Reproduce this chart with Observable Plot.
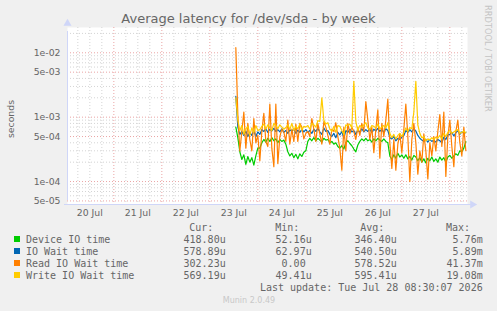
<!DOCTYPE html>
<html>
<head>
<meta charset="utf-8">
<script src="https://cdn.jsdelivr.net/npm/d3@7"></script>
<script src="https://cdn.jsdelivr.net/npm/@observablehq/plot@0.6"></script>
<style>
  html, body { margin: 0; padding: 0; background: #f0f0f0; }
  #chart { position: relative; width: 497px; height: 311px; background: #f0f0f0; overflow: hidden; }
  #chart svg.plot { position: absolute; left: 0; top: 0; }
  #overlay { position: absolute; left: 0; top: 0; }
</style>
</head>
<body>
<div id="chart"></div>
<script>
// Hourly averages (microseconds), first sample 23 Jul 13:00
const deviceIO = [
  700, 480, 290, 220, 260, 185, 245, 200, 235, 180, 250, 330,
  330, 400, 450, 410, 470, 420, 480, 430, 460, 400, 450, 420, 440, 380, 290, 250, 275, 235, 265, 225, 270, 245, 285, 300,
  420, 470, 430, 480, 430, 470, 440, 410, 470, 440, 450, 400, 420, 380, 400, 350, 330, 360, 320, 400, 430, 390, 360,
  320, 290, 370, 420, 460, 430, 470, 430, 450, 410, 460, 430, 470, 440, 420, 460, 420, 400, 250, 220, 260, 230, 275, 240, 260,
  230, 260, 225, 245, 215, 255, 240, 210, 235, 200, 225, 195, 230, 210, 240, 205, 225, 200, 240, 215, 235, 200, 240,
  255, 230, 250, 270, 255, 300, 290, 330, 418.80
];
const ioWait = [
  2100, 700, 540, 600, 520, 610, 500, 580, 520, 620, 500, 590,
  540, 640, 600, 660, 580, 650, 610, 670, 600, 640, 590, 660, 580, 620, 560, 640, 600, 660, 560, 630, 580, 650, 590, 640,
  580, 620, 560, 650, 600, 670, 590, 540, 680, 600, 620, 540, 500, 560, 480, 580, 530, 600, 470, 620, 580, 650, 590,
  620, 540, 640, 580, 660, 590, 640, 600, 660, 580, 650, 610, 670, 600, 650, 580, 660, 620, 480, 460, 500, 430, 470, 450, 490,
  520, 620, 580, 640, 590, 660, 610, 520, 470, 440, 420, 450, 410, 450, 420, 440, 410, 450, 430, 400, 490, 450, 530,
  540, 580, 510, 570, 620, 540, 590, 560, 578.89
];
const readWait = [
  12000, 1100, 300, 600, 1200, 330, 800, 450, 300, 950, 400, 520,
  210, 600, 1150, 420, 350, 1600, 330, 170, 1600, 190, 500, 650, 580, 420, 900, 380, 650, 420, 780, 420, 800, 700, 460, 560,
  600, 500, 950, 650, 420, 800, 550, 380, 850, 700, 520, 380, 650, 600, 820, 500, 330, 150, 700, 300, 800, 550, 700,
  600, 450, 700, 520, 800, 600, 1750, 900, 450, 700, 280, 650, 1300, 230, 800, 500, 900, 1900, 400, 160, 450, 150, 380, 550, 280,
  650, 1600, 500, 100, 450, 800, 400, 130, 300, 200, 550, 300, 110, 400, 250, 500, 300, 600, 1100, 350, 1200, 120, 500,
  900, 350, 170, 600, 900, 400, 250, 700, 302.23
];
const writeWait = [
  2000, 900, 620, 740, 540, 660, 720, 520, 680, 580, 740, 620,
  640, 720, 780, 650, 760, 680, 620, 800, 740, 660, 760, 700, 650, 690, 760, 640, 800, 620, 720, 660, 780, 630, 720, 700,
  740, 650, 800, 760, 700, 880, 860, 2000, 900, 780, 820, 660, 600, 720, 580, 740, 720, 620, 540, 760, 740, 780, 680,
  3600, 850, 620, 740, 700, 760, 820, 680, 640, 740, 720, 680, 780, 660, 700, 740, 680, 820, 560, 480, 540, 460, 520, 560, 500,
  580, 680, 600, 690, 660, 1200, 3600, 760, 560, 480, 500, 430, 460, 440, 480, 450, 490, 470, 520, 460, 560, 500, 580,
  620, 560, 590, 620, 640, 560, 580, 610, 569.19
];

const seriesNames  = ["Device IO time", "IO Wait time", "Read IO Wait time", "Write IO Wait time"];
const seriesColors = ["#00cc00", "#0066b3", "#ff8000", "#ffcc00"];
const curText = ["418.80u", "578.89u", "302.23u", "569.19u"];
const minText = ["52.16u", "62.97u", "0.00 ", "49.41u"];
const avgText = ["346.40u", "540.50u", "578.52u", "595.41u"];
const maxText = ["5.76m", "5.89m", "41.37m", "19.08m"];
const dayLabels = ["20 Jul", "21 Jul", "22 Jul", "23 Jul", "24 Jul", "25 Jul", "26 Jul", "27 Jul"];
const yTickValues = [5e-5, 1e-4, 5e-4, 1e-3, 5e-3, 1e-2];
const yTickLabels = ["5e-05", "1e-04", "5e-04", "1e-03", "5e-03", "1e-02"];

const HOUR = 3600e3;
const firstSample = Date.UTC(2026, 6, 23, 13, 0);
const xStart = new Date(Date.UTC(2026, 6, 20, 0, 50));
const xEnd = new Date(Date.UTC(2026, 6, 28, 8, 50));
const yLo = 4.4e-5, yHi = 0.0247;

const toRows = vals => vals.map((v, i) => ({t: new Date(firstSample + i * HOUR), v: v * 1e-6}));
const allSeries = [deviceIO, ioWait, readWait, writeWait].map(toRows);

// grid: 6-hour minor lines, midnight major lines
const xMajor = [], xMinor = [];
for (let h = 6; h <= 8 * 24 + 6; h += 6) {
  const d = new Date(Date.UTC(2026, 6, 20) + h * HOUR);
  if (d < xStart || d > xEnd) continue;
  (h % 24 === 0 ? xMajor : xMinor).push(d);
}
const dayNoons = dayLabels.map((_, i) => new Date(Date.UTC(2026, 6, 20 + i, 12)));
const dayLabelOf = new Map(dayNoons.map((d, i) => [+d, dayLabels[i]]));
const yTicks = yTickValues.map((v, i) => ({v, label: yTickLabels[i]}));

const yMajor = [], yMinor = [];
for (let k = -5; k <= -2; k++) {
  for (let m = 1; m <= 9; m++) {
    const v = m * Math.pow(10, k);
    if (v < yLo || v > yHi) continue;
    (m === 1 || m === 5 ? yMajor : yMinor).push(v);
  }
}

const axisColor = "#cfd6f8";
const minorGrid = "#d4d4d4";
const majorGrid = "#eaa5a5";

const plot = Plot.plot({
  width: 497,
  height: 230,
  marginLeft: 67,
  marginRight: 30,
  marginTop: 27,
  marginBottom: 26,
  style: {background: "transparent", color: "#666666", fontFamily: "'DejaVu Sans', sans-serif", fontSize: "9.3px", overflow: "visible"},
  x: {type: "utc", domain: [xStart, xEnd]},
  y: {type: "log", domain: [yLo, yHi], axis: null},
  marks: [
    Plot.frame({fill: "white", stroke: "none"}),
    Plot.ruleX(xMinor, {stroke: minorGrid, strokeDasharray: "1,2"}),
    Plot.ruleY(yMinor, {stroke: minorGrid, strokeDasharray: "1,2"}),
    Plot.ruleX(xMajor, {stroke: majorGrid, strokeDasharray: "1,2"}),
    Plot.ruleY(yMajor, {stroke: majorGrid, strokeDasharray: "1,2"}),
    ...allSeries.map((rows, i) => Plot.line(rows, {x: "t", y: "v", stroke: seriesColors[i], strokeWidth: 1.2})),
    Plot.ruleX([xStart], {stroke: axisColor, y1: yLo, y2: yHi, inset: -4}),
    Plot.ruleY([yLo], {stroke: axisColor, x1: xStart, x2: xEnd, insetLeft: -3, insetRight: -4}),
    Plot.dot([{t: xStart, v: yHi}], {x: "t", y: "v", symbol: "triangle", r: 3, fill: axisColor, stroke: "none", dy: -4}),
    Plot.dot([{t: xEnd, v: yLo}], {x: "t", y: "v", symbol: "triangle", r: 3, fill: axisColor, stroke: "none", rotate: 90, dx: 5}),
    Plot.axisX(dayNoons, {tickSize: 0, tickPadding: 5, tickFormat: d => dayLabelOf.get(+d), label: null}),
    Plot.text(yTicks, {y: "v", text: "label", frameAnchor: "left", textAnchor: "end", dx: -7, fill: "#666666"})
  ]
});
plot.classList.add("plot");
const chart = document.getElementById("chart");
chart.appendChild(plot);

// title, unit label, credits and legend
const svg = d3.select(chart).append("svg")
  .attr("id", "overlay").attr("width", 497).attr("height", 311)
  .style("font-family", "'DejaVu Sans', sans-serif");

svg.append("text").attr("x", 248.5).attr("y", 22.5).attr("text-anchor", "middle")
  .attr("font-size", 13).attr("fill", "#666666").text("Average latency for /dev/sda - by week");

svg.append("text").attr("transform", "translate(14,119) rotate(-90)").attr("text-anchor", "middle")
  .attr("font-size", 9.3).attr("fill", "#666666").text("seconds");

svg.append("text").attr("transform", "translate(485,5) rotate(90)").attr("text-anchor", "start")
  .attr("font-size", 8.3).attr("fill", "#c4c4c4").text("RRDTOOL / TOBI OETIKER");

svg.append("text").attr("x", 249).attr("y", 303).attr("text-anchor", "middle")
  .attr("font-size", 8).attr("fill", "#c8c8c8").text("Munin 2.0.49");

const mono = "'DejaVu Sans Mono', monospace";
const headerY = 231;
const rowY = [243, 255, 267, 279];
const cols = [
  {head: "Cur:", headX: 213.3, valX: 225.7, vals: curText},
  {head: "Min:", headX: 299.3, valX: 311.7, vals: minText},
  {head: "Avg:", headX: 384.3, valX: 396.7, vals: avgText},
  {head: "Max:", headX: 470, valX: 482.7, vals: maxText}
];
const leg = svg.append("g").attr("font-family", mono).attr("font-size", 10).attr("fill", "#666666");
cols.forEach(c => {
  leg.append("text").attr("x", c.headX).attr("y", headerY).attr("text-anchor", "end").text(c.head);
  c.vals.forEach((v, i) => {
    leg.append("text").attr("x", c.valX).attr("y", rowY[i]).attr("text-anchor", "end")
      .attr("xml:space", "preserve").style("white-space", "pre").text(v);
  });
});
seriesNames.forEach((name, i) => {
  leg.append("rect").attr("x", 14).attr("y", rowY[i] - 7).attr("width", 6).attr("height", 6).attr("fill", seriesColors[i]);
  leg.append("text").attr("x", 26).attr("y", rowY[i]).text(name);
});
leg.append("text").attr("x", 482.7).attr("y", 291).attr("text-anchor", "end")
  .text("Last update: Tue Jul 28 08:30:07 2026");
</script>
</body>
</html>
